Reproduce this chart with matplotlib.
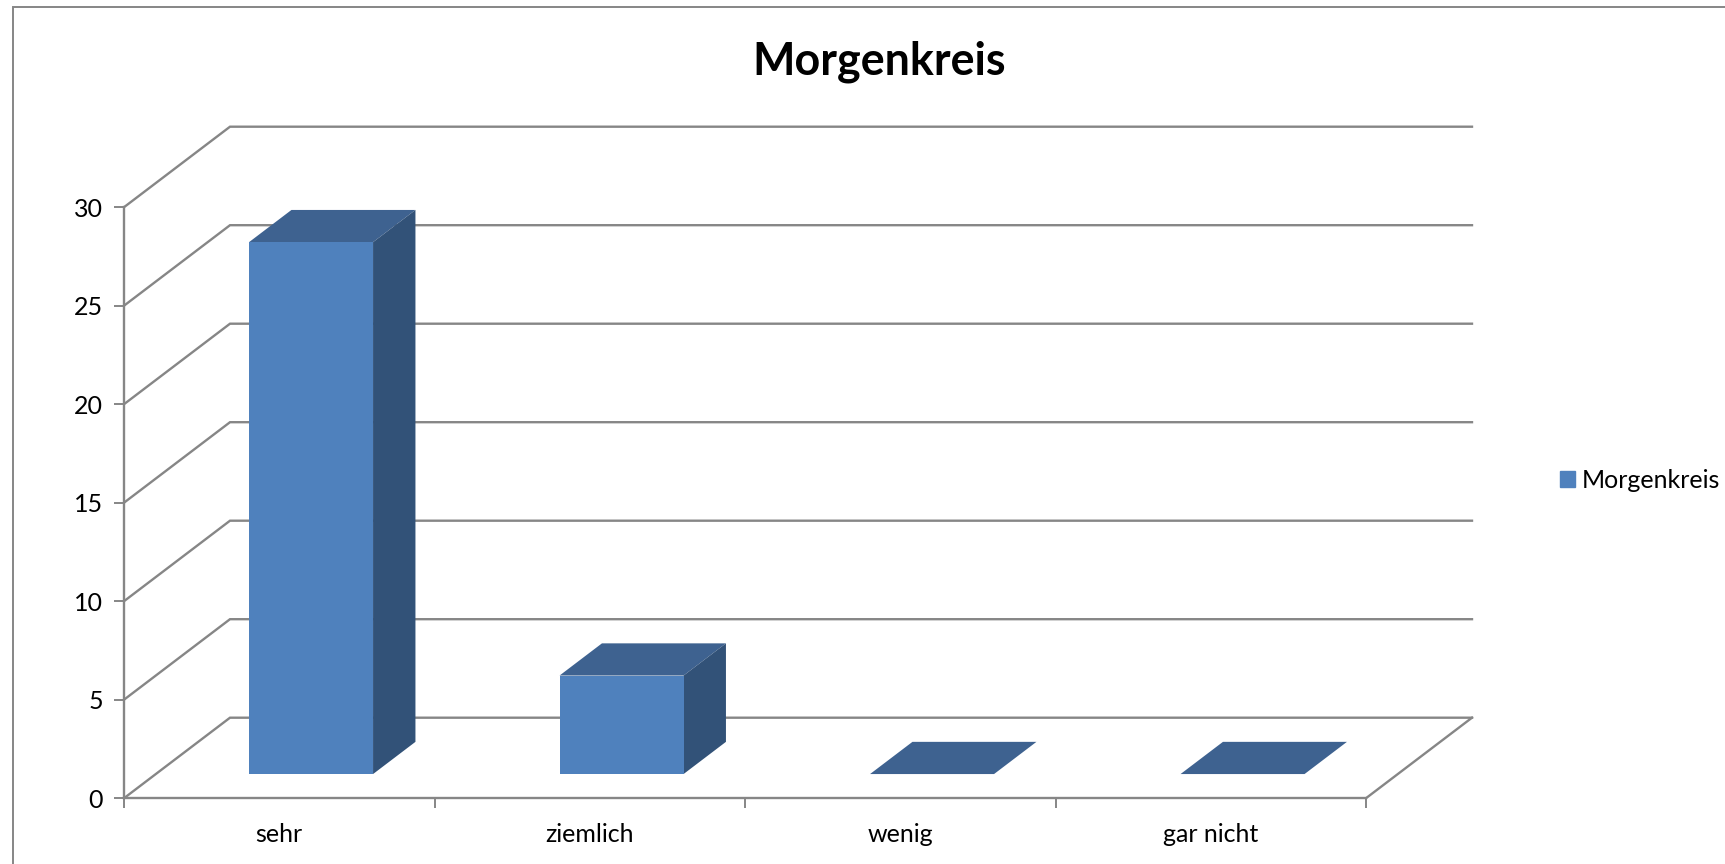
import matplotlib
matplotlib.use("Agg")
import matplotlib.pyplot as plt
from matplotlib.patches import Patch, Rectangle

categories = ["sehr", "ziemlich", "wenig", "gar nicht"]
values = [27, 5, 0, 0]
series_name = "Morgenkreis"
y_ticks = [0, 5, 10, 15, 20, 25, 30]

W, H = 1725, 864
GRAY = "#868686"
FRONT = "#4F81BD"
TOP = "#3E6290"
SIDE = "#325278"

plt.rcParams["font.family"] = ["Lato", "DejaVu Sans"]

fig = plt.figure(figsize=(W / 100, H / 100), dpi=100, facecolor="white")
# achsen = vordere ebene des 3d-diagramms
ax = fig.add_axes([124 / W, 1 - 798.2 / H, (1366 - 124) / W, (798.2 - 207.2) / H])
ax.patch.set_visible(False)
ax.set_xlim(0, len(categories))
ax.set_ylim(0, 30)

# tiefe in datenkoordinaten
DX = 106 / 310.5
DY = 80.5 / 19.7


def proj(x, y, d):
    return x + d * DX, y + d * DY


def poly(pts, color, z):
    ax.fill([p[0] for p in pts], [p[1] for p in pts], color=color, lw=0, zorder=z, clip_on=False)


# gitter: seitenwand und rueckwand
for t in y_ticks:
    x0, y0 = proj(0, t, 0)
    x1, y1 = proj(0, t, 1)
    x2, y2 = proj(len(categories), t, 1)
    ax.plot([x0, x1, x2], [y0, y1, y2], color=GRAY, lw=1.7, zorder=1, clip_on=False, solid_joinstyle="miter")

# boden rechts
x0, y0 = proj(len(categories), 0, 0)
x1, y1 = proj(len(categories), 0, 1)
ax.plot([x0, x1], [y0, y1], color=GRAY, lw=1.7, zorder=1, clip_on=False)

# balken
bar_w = 124 / 310.5
d0, d1 = 0.30, 0.30 + 0.40
for i, v in enumerate(values):
    l = i + 0.5 - bar_w / 2
    r = i + 0.5 + bar_w / 2
    z = 3 + i
    if v > 0:
        poly([proj(l, 0, d0), proj(r, 0, d0), proj(r, v, d0), proj(l, v, d0)], FRONT, z + 0.2)
        poly([proj(r, 0, d0), proj(r, 0, d1), proj(r, v, d1), proj(r, v, d0)], SIDE, z + 0.1)
    poly([proj(l, v, d0), proj(r, v, d0), proj(r, v, d1), proj(l, v, d1)], TOP, z)

for s in ("top", "right"):
    ax.spines[s].set_visible(False)
for s in ("left", "bottom"):
    ax.spines[s].set_color(GRAY)
    ax.spines[s].set_linewidth(1.7)

ax.set_yticks(y_ticks)
ax.set_xticks(range(len(categories) + 1))
ax.set_xticklabels([])
ax.set_xticks([i + 0.5 for i in range(len(categories))], minor=True)
ax.set_xticklabels(categories, minor=True)
ax.tick_params(axis="x", which="minor", length=0, pad=18, labelsize=18)
ax.tick_params(axis="x", which="major", length=7, width=1.4, color=GRAY)
ax.tick_params(axis="y", length=7, width=1.4, color=GRAY, pad=8, labelsize=18)

fig.text(879 / W, 1 - 62 / H, series_name, ha="center", va="center", fontsize=32.3, fontweight="bold")

# aeusserer rahmen
fig.add_artist(Rectangle((12.5 / W, -0.01), 1, 1 - 7 / H + 0.01, transform=fig.transFigure,
                         fill=False, edgecolor=GRAY, lw=1.4))

handle = Patch(color=FRONT, label=series_name)
fig.legend(handles=[handle], loc="center left", bbox_to_anchor=(1560 / W, 1 - 480 / H), frameon=False,
           fontsize=18, handlelength=0.6, handleheight=0.6, handletextpad=0.28, borderpad=0, borderaxespad=0)

fig.savefig("out.png", dpi=100)
